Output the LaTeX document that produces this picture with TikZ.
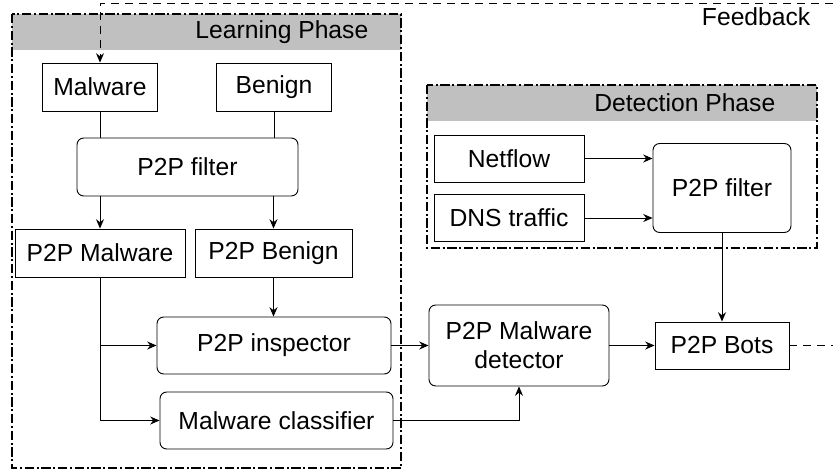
\documentclass[tikz,border=0pt]{standalone}
\usepackage{fontspec}
\setmainfont{Liberation Sans}
\usepackage{tikz}
\usetikzlibrary{arrows.meta, positioning, calc}
\usepackage{xcolor}
\definecolor{headgray}{HTML}{C0C0C0}

\begin{document}
\begin{tikzpicture}[
    x=0.75pt, y=-0.75pt,
    font=\fontsize{18.5}{22}\selectfont,
    box/.style={draw, line width=0.7pt, inner sep=0pt, align=center},
    rbox/.style={box, rounded corners=5pt},
    frame/.style={line width=1.2pt, dash pattern=on 7pt off 2pt on 1.5pt off 2pt},
    arrow/.style={-{Stealth[length=7pt, width=6pt]}, line width=0.7pt},
    link/.style={line width=0.7pt},
    feedback/.style={-{Stealth[length=7pt, width=6pt]}, line width=0.7pt, dash pattern=on 6pt off 4.5pt},
]
\useasboundingbox (0,0) rectangle (833,469);

% Learning phase frame
\fill[headgray] (12,14) rectangle (401,50);
\draw[frame] (12,14) rectangle (401,468);
\node[anchor=east] (learnlbl) at (373,32) {Learning Phase};

% Detection phase frame
\fill[headgray] (427,85) rectangle (817,121);
\draw[frame] (427,85) rectangle (817,248);
\node[anchor=east] (detectlbl) at (780,103) {Detection Phase};

% Learning phase boxes
\node[box, minimum width=86.25pt, minimum height=36pt] (malware) at (100,87) {Malware};
\node[box, minimum width=86.25pt, minimum height=36pt] (benign) at (274,87) {Benign};
\node[rbox, minimum width=165.75pt, minimum height=43.5pt] (filterA) at (187.5,167) {P2P filter};
\node[box, minimum width=127.5pt, minimum height=36pt] (p2pmal) at (100,253) {P2P Malware};
\node[box, minimum width=117.75pt, minimum height=36pt] (p2pben) at (273.5,253) {P2P Benign};
\node[rbox, minimum width=175.5pt, minimum height=42.75pt] (inspector) at (274,345.5) {P2P inspector};
\node[rbox, minimum width=174.75pt, minimum height=42.75pt] (classifier) at (276.5,420.5) {Malware classifier};

% Detection phase boxes
\node[box, minimum width=112.5pt, minimum height=35.25pt] (netflow) at (509,158.5) {Netflow};
\node[box, minimum width=112.5pt, minimum height=35.25pt] (dns) at (509,218) {DNS traffic};
\node[rbox, minimum width=103.5pt, minimum height=66.75pt] (filterB) at (722,188) {P2P filter};

% Output boxes
\node[rbox, minimum width=135pt, minimum height=60.75pt] (detector) at (519,345.5) {P2P Malware\\detector};
\node[box, minimum width=100.5pt, minimum height=35.25pt] (bots) at (722,345.5) {P2P Bots};

% Learning phase connectors
\draw[link] (malware.south) -- (malware.south |- filterA.north);
\draw[link] (benign.south) -- (benign.south |- filterA.north);
\draw[arrow] (filterA.south -| p2pmal.north) -- (p2pmal.north);
\draw[arrow] (filterA.south -| p2pben.north) -- (p2pben.north);
\draw[arrow] (p2pben.south) -- (p2pben.south |- inspector.north);
\draw[arrow] (p2pmal.south) |- (inspector.west);
\draw[arrow] (p2pmal.south) |- (classifier.west);

% Detection phase connectors
\draw[arrow] (netflow.east) -- (netflow.east -| filterB.west);
\draw[arrow] (dns.east) -- (dns.east -| filterB.west);
\draw[arrow] (filterB.south) -- (bots.north);

% Detector connectors
\draw[arrow] (inspector.east) -- (detector.west);
\draw[arrow] (classifier.east) -| (detector.south);
\draw[arrow] (detector.east) -- (bots.west);

% Feedback loop
\coordinate (fbright) at (850,345.5);
\coordinate (fbtop) at (100,3);
\draw[feedback] (bots.east) -- (fbright) |- (fbtop) -- (malware.north);
\node[anchor=east] (fblbl) at (815,17) {Feedback};

\end{tikzpicture}
\end{document}
